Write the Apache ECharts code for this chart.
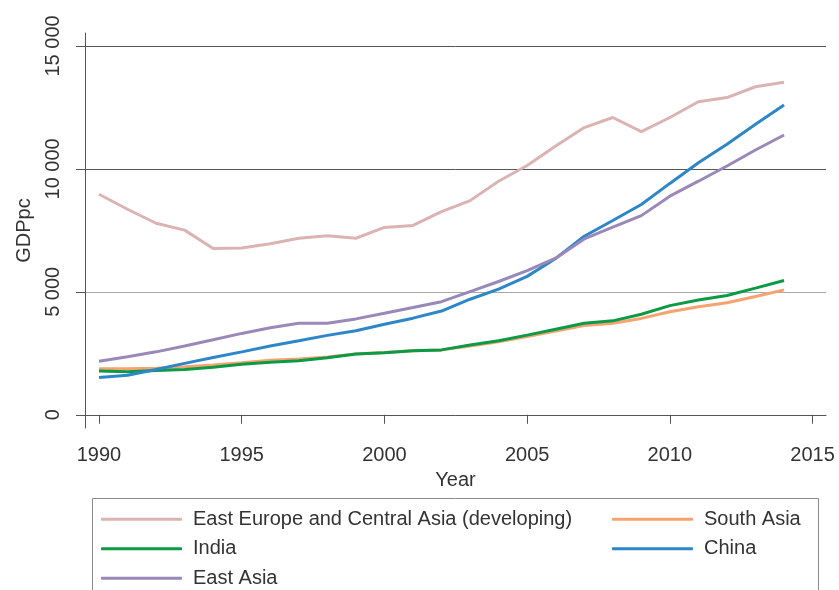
<!DOCTYPE html>
<html>
 <head>
  <title>GDP per capita</title>
  <script src="https://cdn.jsdelivr.net/npm/echarts@6/dist/echarts.min.js"></script>
  <style>
    html, body, #container {
    width: 100%;
    height: 100%;
    margin: 0;
    padding: 0;
    background: #fff;
    }
  </style>
 </head>

<body>
  <div id="container"></div>
  <script>

    var years = [1990, 1991, 1992, 1993, 1994, 1995, 1996, 1997, 1998, 1999, 2000, 2001, 2002,
                 2003, 2004, 2005, 2006, 2007, 2008, 2009, 2010, 2011, 2012, 2013, 2014];
    var eastEurope = [8970, 8360, 7790, 7510, 6760, 6780, 6960, 7180, 7280, 7180, 7620, 7700, 8260,
                      8710, 9500, 10140, 10930, 11680, 12090, 11520, 12090, 12730, 12900, 13340, 13520];
    var southAsia = [1870, 1870, 1890, 1950, 2030, 2120, 2220, 2270, 2350, 2470, 2530, 2600, 2640,
                     2800, 2970, 3180, 3410, 3630, 3720, 3920, 4190, 4390, 4560, 4810, 5080];
    var india = [1780, 1750, 1800, 1840, 1930, 2060, 2140, 2200, 2320, 2470, 2520, 2600, 2640,
                 2840, 3010, 3240, 3480, 3720, 3820, 4090, 4440, 4670, 4850, 5150, 5460];
    var china = [1520, 1610, 1840, 2090, 2330, 2560, 2800, 3010, 3230, 3420, 3680, 3930, 4220,
                 4700, 5110, 5630, 6360, 7260, 7900, 8550, 9410, 10250, 11000, 11820, 12600];
    var eastAsia = [2180, 2360, 2560, 2800, 3050, 3310, 3540, 3720, 3720, 3900, 4130, 4360, 4600,
                    5010, 5420, 5860, 6370, 7150, 7630, 8100, 8890, 9500, 10120, 10770, 11380];

    var xTicks = [1990, 1995, 2000, 2005, 2010, 2015];
    var yTicks = [0, 5000, 10000, 15000];

    var font = 'Liberation Sans, Arial, Helvetica, sans-serif';
    var textColor = '#333';

    function pairs(vals) {
      return years.map(function (y, i) { return [y, vals[i]]; });
    }

    function line(name, vals, color) {
      return {
        name: name,
        type: 'line',
        data: pairs(vals),
        symbol: 'none',
        lineStyle: { color: color, width: 3 },
        itemStyle: { color: color }
      };
    }

    // one legend per entry so the two columns line up like the original
    function legendItem(name, left, top) {
      return {
        orient: 'horizontal',
        left: left,
        top: top,
        padding: 0,
        itemWidth: 81,
        itemHeight: 3,
        icon: 'roundRect',
        textStyle: { fontFamily: font, fontSize: 20, color: textColor, padding: [0, 0, 0, 6] },
        data: [name]
      };
    }

    var chartDom = document.getElementById('container');
    var myChart = echarts.init(chartDom);

    var options = {
      animation: false,
      backgroundColor: '#fff',
      grid: { left: 85, right: 13, top: 33, bottom: 162, containLabel: false, outerBoundsMode: 'none' },
      xAxis: {
        type: 'value',
        min: 1989.51,
        max: 2015.47,
        name: 'Year',
        nameLocation: 'middle',
        nameGap: 35,
        nameMoveOverlap: false,
        nameTextStyle: { fontFamily: font, fontSize: 20, color: textColor },
        axisLine: { show: true, lineStyle: { color: '#555', width: 1 } },
        axisTick: { show: true, length: 9, customValues: xTicks, lineStyle: { color: '#555' } },
        axisLabel: {
          customValues: xTicks,
          margin: 10,
          fontFamily: font,
          fontSize: 20,
          color: textColor,
          formatter: function (v) { return String(v); }
        },
        splitLine: { show: false }
      },
      yAxis: {
        type: 'value',
        min: -537,
        max: 15527,
        name: 'GDPpc',
        nameLocation: 'middle',
        nameGap: 43,
        nameMoveOverlap: false,
        nameTextStyle: { fontFamily: font, fontSize: 20, color: textColor },
        axisLine: { show: true, lineStyle: { color: '#555', width: 1 } },
        axisTick: { show: true, length: 9, customValues: yTicks, lineStyle: { color: '#555' } },
        axisLabel: {
          customValues: yTicks,
          rotate: 90,
          margin: 14,
          fontFamily: font,
          fontSize: 20,
          color: textColor,
          formatter: function (v) {
            return String(v).replace(/\B(?=(\d{3})+(?!\d))/g, ' ');
          }
        },
        splitLine: { show: true, lineStyle: { color: ['#a8a8a8', '#a8a8a8', '#555', '#555'], width: 1 } }
      },
      legend: [
        legendItem('East Europe and Central Asia (developing)', 101, 502),
        legendItem('India', 101, 531.5),
        legendItem('East Asia', 101, 561),
        legendItem('South Asia', 612, 502),
        legendItem('China', 612, 531.5)
      ],
      graphic: [
        {
          type: 'rect',
          shape: { x: 92.5, y: 498.5, width: 726, height: 110 },
          style: { fill: 'none', stroke: '#8a8a8a', lineWidth: 1 },
          silent: true,
          z: -1
        }
      ],
      series: [
        line('East Europe and Central Asia (developing)', eastEurope, '#dbb3b3'),
        line('South Asia', southAsia, '#f6a36f'),
        line('India', india, '#0b9a46'),
        line('China', china, '#2d86c8'),
        line('East Asia', eastAsia, '#9a88b9')
      ]
    };

    myChart.setOption(options);
  </script>
</body>
</html>
